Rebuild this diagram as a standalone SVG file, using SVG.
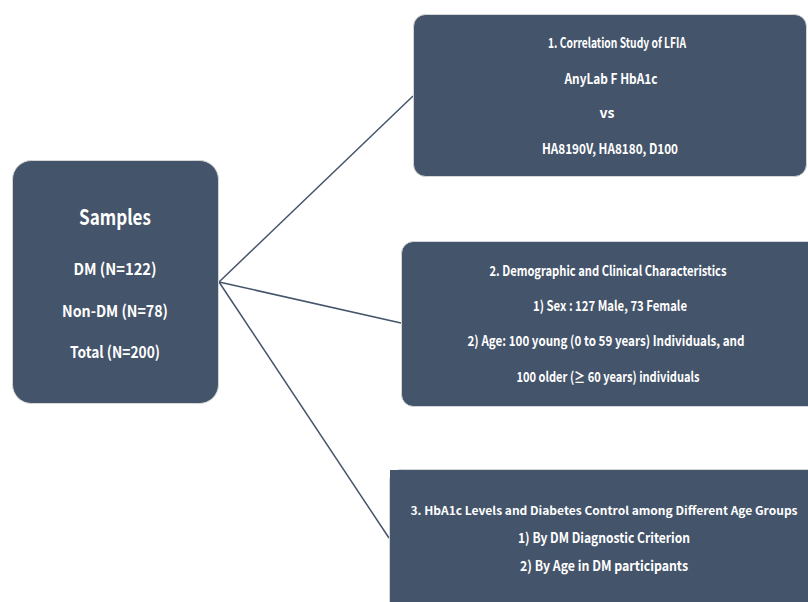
<svg xmlns="http://www.w3.org/2000/svg" width="808" height="602" viewBox="0 0 808 602">
<style>
.box{fill:#44546A;stroke:#d6d6d6;stroke-width:1}
.t{fill:#ffffff;font-family:"Noto Sans CJK KR","Noto Sans",sans-serif;font-weight:bold;text-anchor:middle}
.s{font-size:14px}
.m{font-size:16px}
.l{font-size:21px}
.c{stroke:#44546A;stroke-width:1.5;fill:none}
</style>
<rect width="808" height="602" fill="#ffffff"/>
<g id="connectors">
<line class="c" x1="219" y1="282" x2="413" y2="96"/>
<line class="c" x1="219" y1="282" x2="401" y2="323"/>
<line class="c" x1="219" y1="282" x2="389" y2="538"/>
</g>
<g id="samples">
<rect class="box" x="12.5" y="160.5" width="206" height="243" rx="19"/>
<text class="t l" x="115" y="225" textLength="72" lengthAdjust="spacingAndGlyphs">Samples</text>
<text class="t m" x="115" y="275" textLength="83" lengthAdjust="spacingAndGlyphs">DM (N=122)</text>
<text class="t m" x="115" y="317" textLength="106" lengthAdjust="spacingAndGlyphs">Non-DM (N=78)</text>
<text class="t m" x="115" y="358" textLength="90" lengthAdjust="spacingAndGlyphs">Total (N=200)</text>
</g>
<g id="correlation">
<rect class="box" x="413.5" y="14.5" width="393" height="162" rx="12"/>
<text class="t s" x="617" y="48" textLength="138" lengthAdjust="spacingAndGlyphs">1. Correlation Study of LFIA</text>
<text class="t s" x="611" y="84" textLength="93" lengthAdjust="spacingAndGlyphs">AnyLab F HbA1c</text>
<text class="t s" x="607" y="118">vs</text>
<text class="t s" x="610" y="154" textLength="136" lengthAdjust="spacingAndGlyphs">HA8190V, HA8180, D100</text>
</g>
<g id="demographic">
<path class="box" d="M808,241.5 H413.5 A12,12 0 0 0 401.5,253.5 V394.5 A12,12 0 0 0 413.5,406.5 H808"/>
<text class="t s" x="608" y="276" textLength="237" lengthAdjust="spacingAndGlyphs">2. Demographic and Clinical Characteristics</text>
<text class="t s" x="610" y="311" textLength="154" lengthAdjust="spacingAndGlyphs">1) Sex : 127 Male, 73 Female</text>
<text class="t s" x="606" y="346" textLength="277" lengthAdjust="spacingAndGlyphs">2) Age: 100 young (0 to 59 years) Individuals, and</text>
<text class="t s" x="608" y="382" textLength="183" lengthAdjust="spacingAndGlyphs">100 older (≥ 60 years) individuals</text>
</g>
<g id="hba1c">
<path class="box" d="M808,469.5 H401.5 A12,12 0 0 0 389.5,481.5 V602"/>
<rect x="390" y="470" width="418" height="132" fill="#44546A"/>
<text class="t" style="font-size:11.5px" x="604" y="515" textLength="387" lengthAdjust="spacingAndGlyphs">3. HbA1c Levels and Diabetes Control among Different Age Groups</text>
<text class="t s" x="604" y="543" textLength="172" lengthAdjust="spacingAndGlyphs">1) By DM Diagnostic Criterion</text>
<text class="t s" x="604" y="571" textLength="168" lengthAdjust="spacingAndGlyphs">2) By Age in DM participants</text>
</g>
</svg>
